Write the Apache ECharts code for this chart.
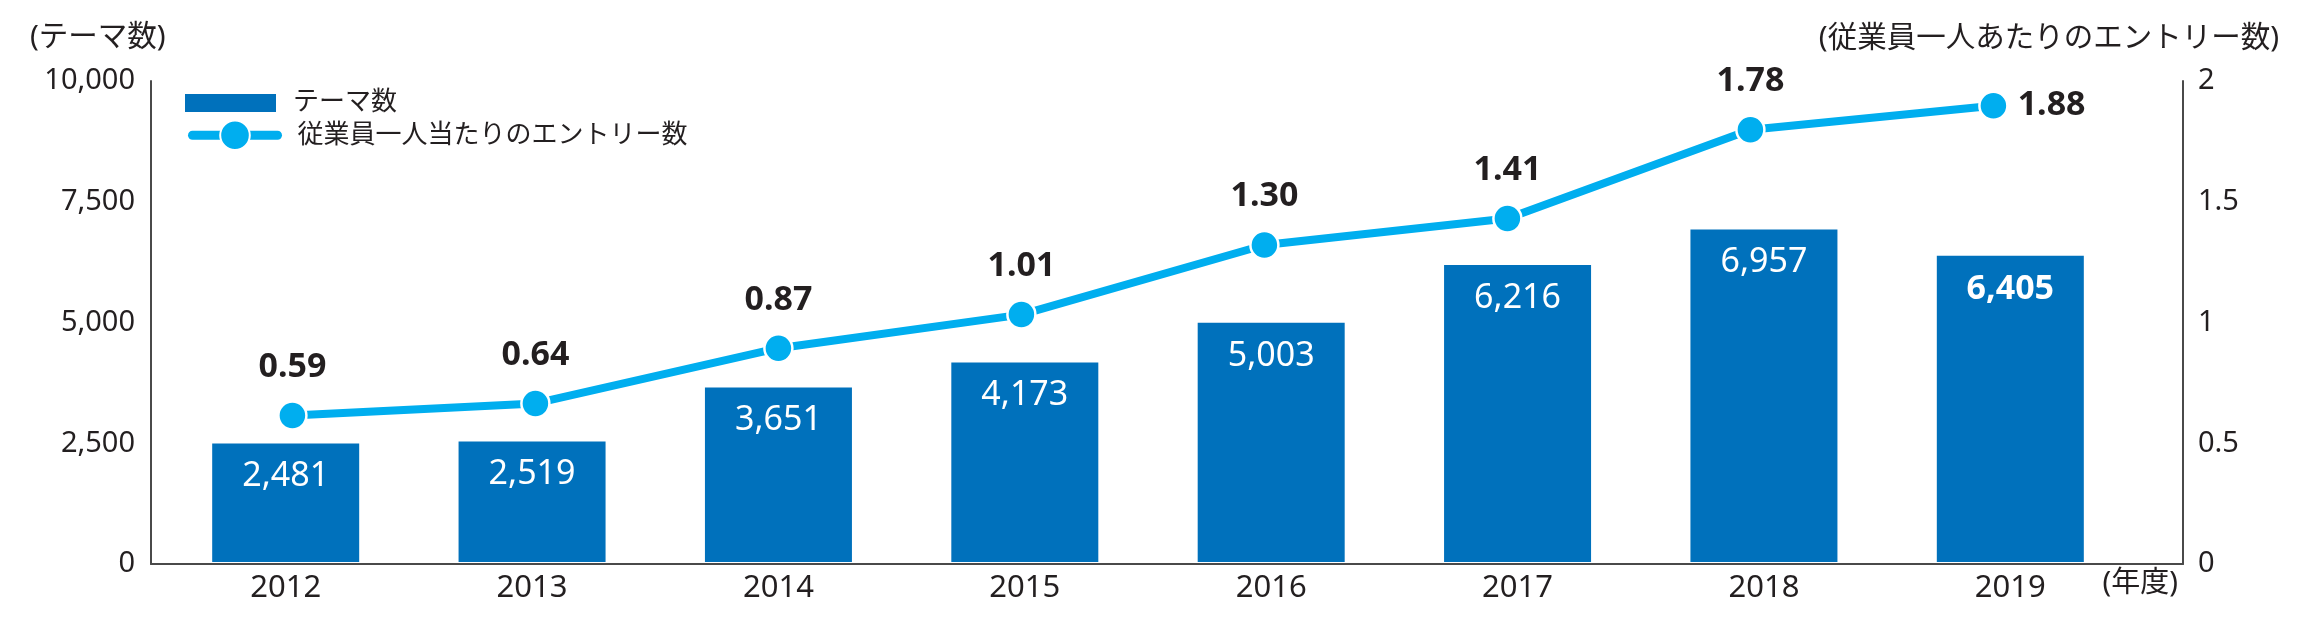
<!DOCTYPE html>
<html>
<head>
<meta charset="utf-8">
<script src="https://cdn.jsdelivr.net/npm/echarts@6/dist/echarts.min.js"></script>
<style>
  html, body { margin: 0; padding: 0; background: #fff; }
  #chart { width: 2304px; height: 634px; }
</style>
</head>
<body>
<div id="chart"></div>
<script>
// ---- data ----
const years = ['2012', '2013', '2014', '2015', '2016', '2017', '2018', '2019'];
const themeCounts = [2481, 2519, 3651, 4173, 5003, 6216, 6957, 6405];
const entriesPerEmployee = [0.59, 0.64, 0.87, 1.01, 1.30, 1.41, 1.78, 1.88];
const leftTicks = { min: 0, max: 10000, interval: 2500 };
const rightTicks = { min: 0, max: 2, interval: 0.5 };
const barName = 'テーマ数';
const lineName = '従業員一人当たりのエントリー数';
const leftAxisName = '(テーマ数)';
const rightAxisName = '(従業員一人あたりのエントリー数)';
const xAxisName = '(年度)';

const FONT = '"Noto Sans", "Noto Sans CJK JP", sans-serif';
const TXT = '#231F20';
const BAR = '#0071BC';
const LINE = '#00AEEF';
const AXIS = '#4a4a4a';

const chart = echarts.init(document.getElementById('chart'), null, { renderer: 'canvas' });

const fmtThousands = v => Number(v).toLocaleString('en-US');

const option = {
  animation: false,
  backgroundColor: '#ffffff',
  textStyle: { fontFamily: FONT, color: TXT },
  grid: [
    { left: 162.5, right: 170.5, top: 84, height: 478 },   // bars
    { left: 292.4, right: 310.6, top: 77, height: 480 },   // line
    { left: 151, right: 121, top: 81, height: 483 }        // frame axes
  ],
  legend: [
    {
      data: [barName], left: 185, top: 90, padding: 0,
      icon: 'rect', itemWidth: 91, itemHeight: 18,
      textStyle: { fontSize: 26, lineHeight: 26, color: TXT, fontFamily: FONT, padding: [0, 0, 0, 12] },
      selectedMode: false
    },
    {
      data: [lineName], left: 188, top: 119.5, padding: 0,
      itemWidth: 85, itemHeight: 37,
      lineStyle: { width: 9, cap: 'round', color: LINE },
      textStyle: { fontSize: 26, lineHeight: 26, color: TXT, fontFamily: FONT, padding: [0, 0, 0, 15] },
      selectedMode: false
    }
  ],
  xAxis: [
    {
      type: 'category', gridIndex: 0, data: years,
      axisLine: { show: false }, axisTick: { show: false },
      axisLabel: { fontSize: 31, color: TXT, margin: 11, fontFamily: FONT }
    },
    {
      type: 'category', gridIndex: 1, data: years, boundaryGap: false, show: false
    },
    {
      type: 'value', gridIndex: 2, min: 0, max: 1,
      axisLine: { show: true, onZero: false, lineStyle: { color: AXIS, width: 2 } },
      axisTick: { show: false }, axisLabel: { show: false }, splitLine: { show: false }
    }
  ],
  yAxis: [
    { type: 'value', gridIndex: 0, min: leftTicks.min, max: leftTicks.max, show: false },
    { type: 'value', gridIndex: 1, min: rightTicks.min, max: rightTicks.max, show: false },
    {
      type: 'value', gridIndex: 2, position: 'left',
      min: leftTicks.min, max: leftTicks.max, interval: leftTicks.interval,
      axisLine: { show: true, onZero: false, lineStyle: { color: AXIS, width: 2 } },
      axisTick: { show: false }, splitLine: { show: false },
      axisLabel: { fontSize: 29, color: TXT, margin: 16, fontFamily: FONT, formatter: fmtThousands }
    },
    {
      type: 'value', gridIndex: 2, position: 'right',
      min: rightTicks.min, max: rightTicks.max, interval: rightTicks.interval,
      axisLine: { show: true, onZero: false, lineStyle: { color: AXIS, width: 2 } },
      axisTick: { show: false }, splitLine: { show: false },
      axisLabel: { fontSize: 29, color: TXT, margin: 15, fontFamily: FONT, formatter: v => String(v) }
    }
  ],
  graphic: [
    { type: 'text', left: 30, top: 23, style: { text: leftAxisName, fontSize: 29.5, fill: TXT, fontFamily: FONT } },
    { type: 'text', right: 2304 - 2279, top: 24, style: { text: rightAxisName, fontSize: 29.5, fill: TXT, fontFamily: FONT } },
    { type: 'text', right: 2304 - 2178, top: 569, style: { text: xAxisName, fontSize: 29, fill: TXT, fontFamily: FONT } }
  ],
  series: [
    {
      name: barName, type: 'bar', xAxisIndex: 0, yAxisIndex: 0,
      barWidth: 147,
      itemStyle: { color: BAR },
      label: {
        show: true, position: 'insideTop', distance: 16,
        color: '#ffffff', fontSize: 34, fontFamily: FONT,
        formatter: p => fmtThousands(p.value)
      },
      data: themeCounts.map((v, i) => i === themeCounts.length - 1
        ? { value: v, label: { fontWeight: 'bold' } } : v)
    },
    {
      name: lineName, type: 'line', xAxisIndex: 1, yAxisIndex: 1,
      symbol: 'circle', symbolSize: 28,
      lineStyle: { color: LINE, width: 8 },
      itemStyle: { color: LINE, borderColor: '#ffffff', borderWidth: 2.5 },
      label: {
        show: true, position: 'top', distance: 16,
        color: TXT, fontSize: 34, fontWeight: 'bold', fontFamily: FONT,
        formatter: p => Number(p.value).toFixed(2)
      },
      data: entriesPerEmployee.map((v, i) => i === entriesPerEmployee.length - 1
        ? { value: v, label: { position: 'right', distance: 9 } } : v)
    }
  ]
};

chart.setOption(option);
</script>
</body>
</html>
